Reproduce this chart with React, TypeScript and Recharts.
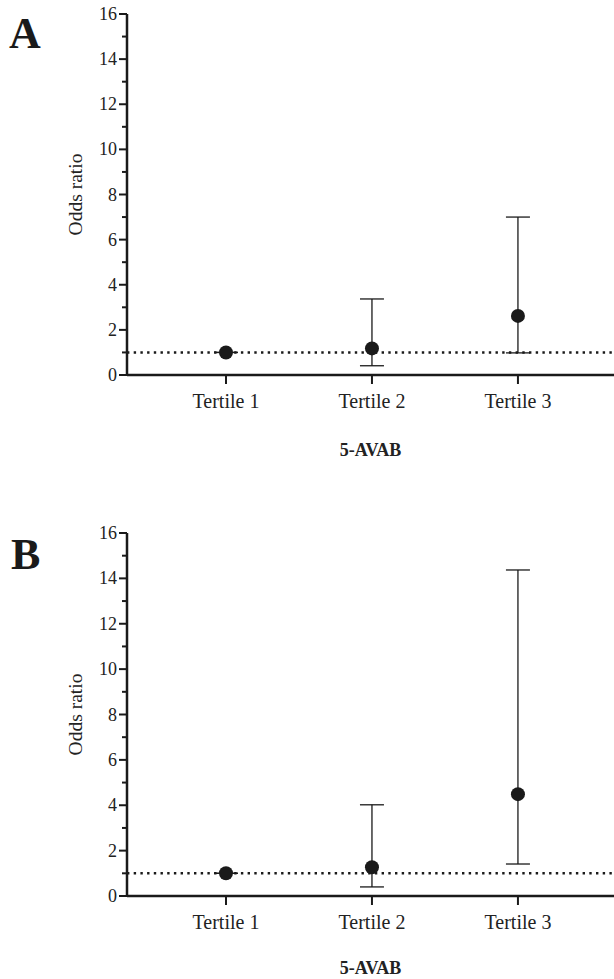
import React from 'react';
import { ScatterChart, Scatter, XAxis, YAxis, ErrorBar, ReferenceLine } from 'recharts';

const categories = ['Tertile 1', 'Tertile 2', 'Tertile 3'];

const oddsA = [1, 1.18, 2.62];
const lowA = [1, 0.41, 0.98];
const highA = [1, 3.37, 7.0];

const oddsB = [1, 1.27, 4.49];
const lowB = [1, 0.4, 1.41];
const highB = [1, 4.02, 14.37];

const yTicks = [0, 1, 2, 3, 4, 5, 6, 7, 8, 9, 10, 11, 12, 13, 14, 15, 16];
const xTicks = [1, 2, 3];

const INK = '#1a1a1a';
const FONT = "'Liberation Serif', 'Times New Roman', serif";

const buildRows = (odds: number[], low: number[], high: number[]) =>
  categories.map((name, i) => ({
    name,
    x: i + 1,
    y: odds[i],
    err: [odds[i] - low[i], high[i] - odds[i]],
  }));

const YTick = (props: any) => {
  const { x, y, payload } = props;
  const major = payload.value % 2 === 0;
  const len = major ? 8 : 5;
  return (
    <g>
      <line x1={x - len} x2={x} y1={y} y2={y} stroke={INK} strokeWidth={2} />
      {major && (
        <text x={x - 10} y={y} textAnchor="end" dominantBaseline="central" fill="#222" style={{ fontFamily: FONT, fontSize: 18 }}>
          {payload.value}
        </text>
      )}
    </g>
  );
};

const XTick = (props: any) => {
  const { x, y, payload } = props;
  return (
    <g>
      <line x1={x} x2={x} y1={y} y2={y + 9} stroke={INK} strokeWidth={2} />
      <text x={x} y={y + 26} textAnchor="middle" dominantBaseline="central" fill="#222" style={{ fontFamily: FONT, fontSize: 20 }}>
        {categories[payload.value - 1]}
      </text>
    </g>
  );
};

const Dot = (props: any) => <circle cx={props.cx} cy={props.cy} r={7} fill={INK} />;

type PanelProps = {
  rows: ReturnType<typeof buildRows>;
  height: number;
  xAxisHeight: number;
  labelDy: number;
};

const Panel = ({ rows, height, xAxisHeight, labelDy }: PanelProps) => (
  <ScatterChart width={614} height={height} margin={{ top: 14, right: 0, bottom: 0, left: 0 }}>
    <XAxis
      type="number"
      dataKey="x"
      domain={[0.322, 3.658]}
      ticks={xTicks}
      interval={0}
      allowDataOverflow
      height={xAxisHeight}
      tickSize={0}
      tickMargin={0}
      tick={<XTick />}
      axisLine={{ stroke: INK, strokeWidth: 2.5 }}
      label={{
        value: '5-AVAB',
        position: 'center',
        dy: labelDy,
        fill: '#222',
        style: { fontFamily: FONT, fontSize: 18, fontWeight: 'bold' },
      }}
    />
    <YAxis
      type="number"
      dataKey="y"
      domain={[0, 16]}
      ticks={yTicks}
      interval={0}
      width={127}
      tickSize={0}
      tickMargin={0}
      tick={<YTick />}
      axisLine={{ stroke: INK, strokeWidth: 2.5 }}
      label={{
        value: 'Odds ratio',
        angle: -90,
        position: 'center',
        dx: 12,
        fill: '#222',
        style: { fontFamily: FONT, fontSize: 19.5 },
      }}
    />
    <ReferenceLine y={1} stroke={INK} strokeWidth={2.6} strokeDasharray="2.4 4.3" />
    <Scatter data={rows} shape={<Dot />} isAnimationActive={false}>
      <ErrorBar dataKey="err" direction="y" width={12} stroke={INK} strokeWidth={1.3} />
    </Scatter>
  </ScatterChart>
);

const letterStyle: React.CSSProperties = {
  position: 'absolute',
  fontFamily: FONT,
  fontWeight: 'bold',
  fontSize: 44,
  lineHeight: 1,
  color: '#1a1a1a',
};

export default function App() {
  return (
    <div style={{ position: 'relative', width: 614, height: 979, background: '#fff', overflow: 'hidden', fontFamily: FONT }}>
      <style>{`body { margin: 0; } svg text { font-family: 'Liberation Serif', 'Times New Roman', serif; }`}</style>
      <div style={{ position: 'absolute', left: 0, top: 0 }}>
        <Panel rows={buildRows(oddsA, lowA, highA)} height={470} xAxisHeight={95} labelDy={27} />
      </div>
      <div style={{ position: 'absolute', left: 0, top: 519 }}>
        <Panel rows={buildRows(oddsB, lowB, highB)} height={460} xAxisHeight={83} labelDy={30} />
      </div>
      <div style={{ ...letterStyle, left: 9, top: 12 }}>A</div>
      <div style={{ ...letterStyle, left: 11, top: 533 }}>B</div>
    </div>
  );
}
